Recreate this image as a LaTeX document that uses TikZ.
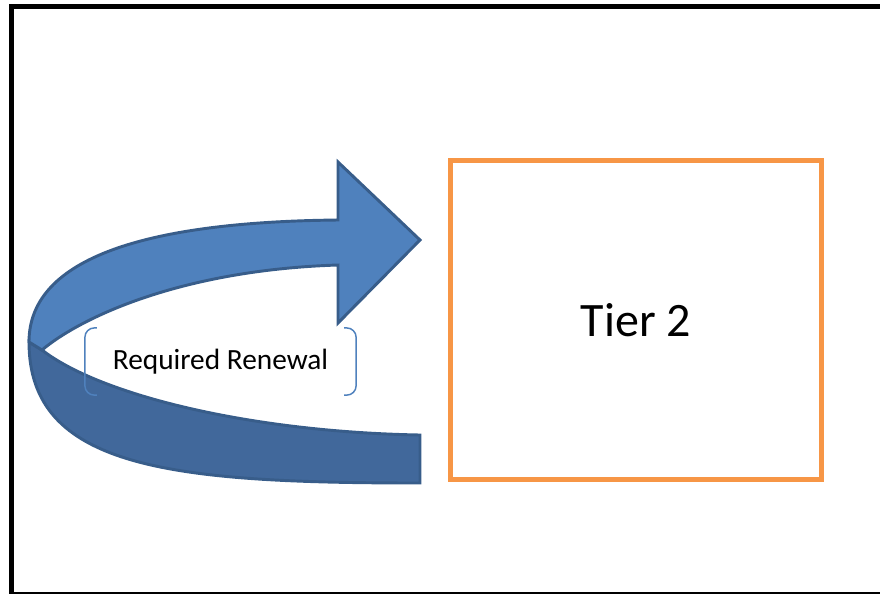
\documentclass[tikz,border=0pt]{standalone}
\usepackage{fontspec}
\setmainfont{Carlito}
\usetikzlibrary{positioning}

\definecolor{arrowblue}{HTML}{4F81BD}
\definecolor{arrowdark}{HTML}{41689B}
\definecolor{arrowline}{HTML}{385D8A}
\definecolor{tierorange}{HTML}{F79646}

\begin{document}
\begin{tikzpicture}[x=0.75pt,y=-0.75pt,
    tierbox/.style={draw=tierorange, line width=3.4pt, minimum width=277.9pt,
      minimum height=239.6pt, font=\fontsize{36}{40}\selectfont},
    renewallabel/.style={minimum width=203pt, minimum height=50pt, inner sep=0pt,
      font=\fontsize{22}{24}\selectfont},
    bracket/.style={draw=arrowblue, line width=1.1pt, rounded corners=7pt},
    bandtop/.style={fill=arrowblue, draw=arrowline, line width=2.2pt},
    bandlow/.style={bandtop, fill=arrowdark}]
  \useasboundingbox (0,0) rectangle (880,593);
  \clip (0,0) rectangle (880,593);

  % outer frame
  \draw[line width=3.75pt] (11.5,6.5) rectangle (886,594);

  % the boxes
  \node[tierbox] (tier) at (636,320) {Tier 2};
  \node[renewallabel] (renewal) at (220.5,361.5) {Required Renewal};

  % curved arrow, lower band first
  \draw[bandlow] (29,342) .. controls (29,468) and (170,483) .. (420,483)
    -- (420,435) .. controls (250,432) and (100,395) .. (42,350) -- cycle;
  \draw[bandtop] (338,265) -- (338,323) -- (420,240) -- (338,162) -- (338,220)
    .. controls (135,222) and (29,262) .. (29,342) -- (42,350)
    .. controls (80,318) and (180,270) .. (338,265) -- cycle;

  % brackets round the label
  \draw[bracket] ([xshift=9pt]renewal.north west) -- (renewal.north west)
    -- (renewal.south west) -- ([xshift=9pt]renewal.south west);
  \draw[bracket] ([xshift=-9pt]renewal.north east) -- (renewal.north east)
    -- (renewal.south east) -- ([xshift=-9pt]renewal.south east);
\end{tikzpicture}
\end{document}
